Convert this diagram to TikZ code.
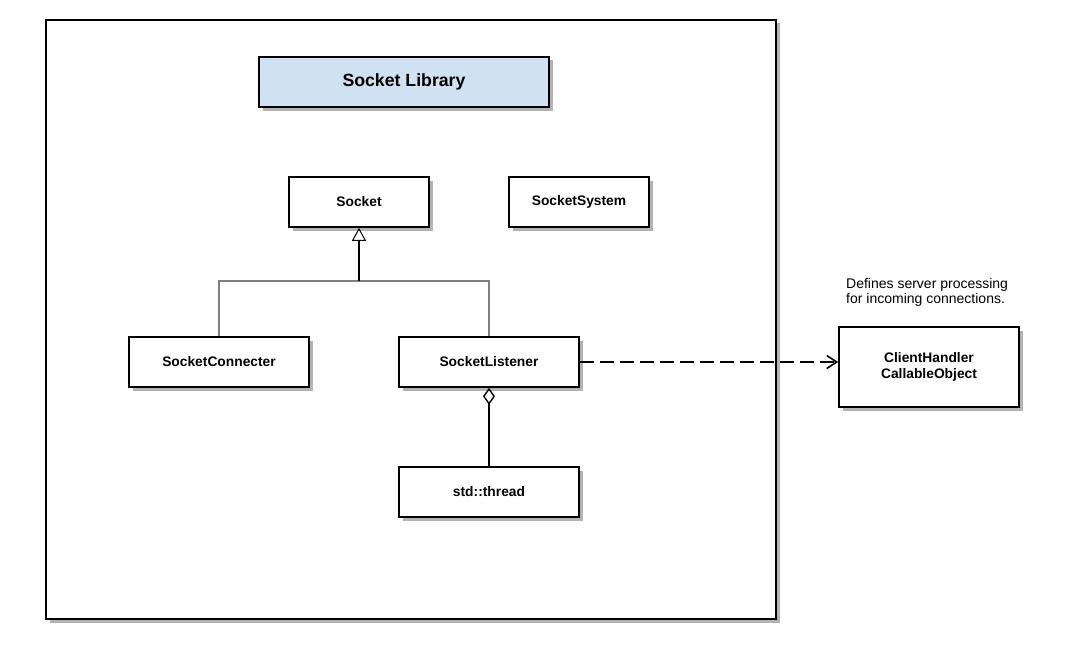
\documentclass[tikz,border=0pt]{standalone}
\usepackage{fontspec}
\setmainfont{Liberation Sans}
\usetikzlibrary{arrows.meta,shadows}
\definecolor{titlefill}{HTML}{D0E2F2}
\definecolor{shadowgray}{HTML}{B3B3B3}
\definecolor{linegray}{HTML}{7F7F7F}
\tikzset{
  shadowed/.style={general shadow={fill=shadowgray, shadow xshift=3.5pt, shadow yshift=-3.5pt}},
  classbox/.style={draw=black, line width=1.6pt, fill=white, shadowed, inner sep=0pt,
    font=\fontsize{13.8}{16.5}\selectfont\bfseries, align=center},
  genline/.style={draw=linegray, line width=1.1pt},
}
\begin{document}
\begin{tikzpicture}[x=1pt,y=-1pt]
\useasboundingbox (0,0) rectangle (1071,661);
% outer frame
\node[draw=black, line width=1.8pt, fill=white, shadowed, minimum width=730pt, minimum height=599pt, inner sep=0pt] (frame) at (411,319.5) {};
% title
\node[classbox, fill=titlefill, minimum width=290pt, minimum height=50pt, font=\fontsize{17.7}{20}\selectfont\bfseries] (title) at (404,82) {Socket Library};
% classes
\node[classbox, minimum width=140pt, minimum height=50pt] (socket) at (359,202) {Socket};
\node[classbox, minimum width=140pt, minimum height=50pt] (system) at (579,202) {SocketSystem};
\node[classbox, minimum width=180pt, minimum height=50pt] (conn) at (219,362) {SocketConnecter};
\node[classbox, minimum width=180pt, minimum height=50pt] (listen) at (489,362) {SocketListener};
\node[classbox, minimum width=180pt, minimum height=50pt] (thread) at (489,492) {std::thread};
\node[classbox, minimum width=180pt, minimum height=80pt] (handler) at (929,367) {ClientHandler\\CallableObject};
% note
\node[anchor=north west, inner sep=0pt, align=left, font=\fontsize{14}{15.5}\selectfont] (note) at (846,278) {Defines server processing\\for incoming connections.};
% inheritance
\coordinate (junc) at (359,281);
\draw[genline] (conn.north) |- (junc);
\draw[genline] (listen.north) |- (junc);
\draw[line width=1.3pt, -{Triangle[open, length=13pt, width=14pt, line width=1pt]}] (junc) -- (socket.south);
% aggregation
\draw[line width=1.8pt, -{Diamond[open, length=17pt, width=12pt, line width=1.4pt]}] (thread.north) -- (listen.south);
% dependency
\draw[line width=1.8pt, dash pattern=on 14pt off 6pt, -{Straight Barb[length=10pt, width=13pt, line width=1.6pt]}] (listen.east) -- (listen.east -| handler.west);
\end{tikzpicture}
\end{document}
